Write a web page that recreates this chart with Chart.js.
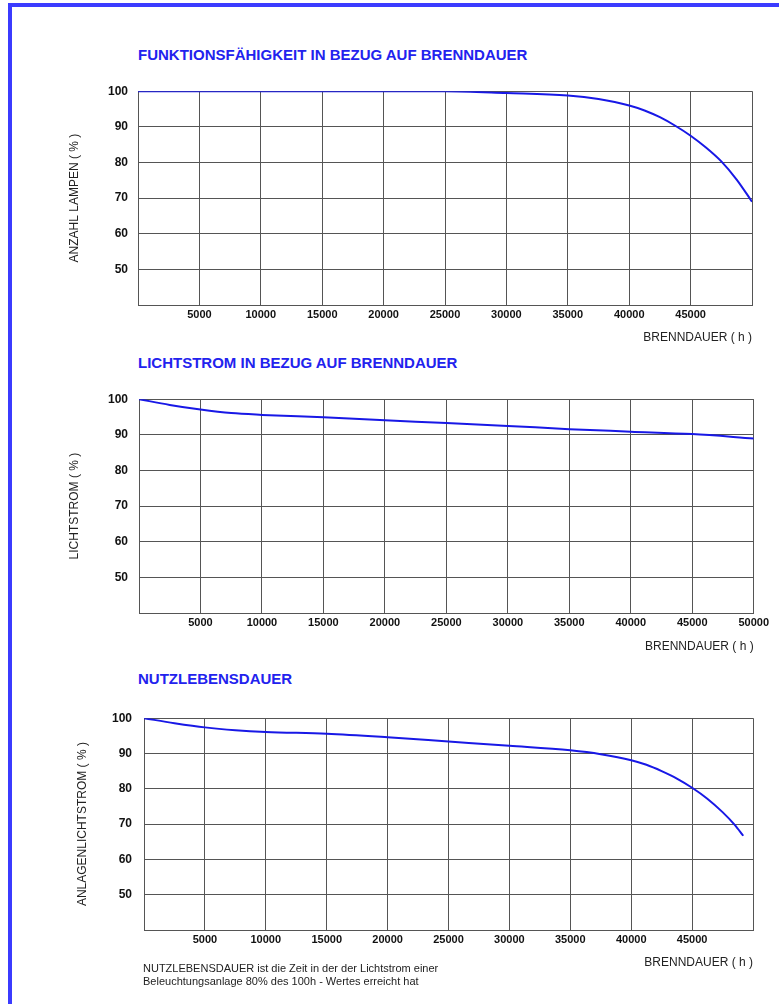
<!DOCTYPE html>
<html>
<head>
<meta charset="utf-8">
<script src="https://cdn.jsdelivr.net/npm/chart.js@4.4.1/dist/chart.umd.min.js"></script>
<style>
body{margin:0;background:#fff;width:779px;height:1004px;overflow:hidden;position:relative;font-family:"Liberation Sans",Arial,sans-serif}
#frame{position:absolute;left:8px;top:3px;right:-10px;bottom:-10px;border-left:4px solid #3b3bff;border-top:4px solid #3b3bff}
.title{position:absolute;left:138px;color:#2222ee;font-weight:bold;font-size:15px;line-height:15px;white-space:nowrap}
canvas{position:absolute;left:50px}
.note{position:absolute;left:143px;top:962px;font-size:11px;line-height:13px;color:#222;white-space:nowrap}
</style>
</head>
<body>
<div id="frame"></div>
<div class="title" style="top:47px">FUNKTIONSFÄHIGKEIT IN BEZUG AUF BRENNDAUER</div>
<div class="title" style="top:355px">LICHTSTROM IN BEZUG AUF BRENNDAUER</div>
<div class="title" style="top:671px">NUTZLEBENSDAUER</div>
<canvas id="c1" width="720" height="281" style="top:74px"></canvas>
<canvas id="c2" width="722" height="282" style="top:381px"></canvas>
<canvas id="c3" width="720" height="283" style="top:699px"></canvas>
<div class="note">NUTZLEBENSDAUER ist die Zeit in der der Lichtstrom einer<br>Beleuchtungsanlage 80% des 100h - Wertes erreicht hat</div>
<script>
// Brenndauer (h) und Werte in %
var hours1 = [0, 5000, 10000, 15000, 20000, 25000, 30000, 35000, 37500, 40000, 41250, 42500, 43750, 45000, 46250, 47500, 48750, 50000];
var funktion = [100, 100, 100, 100, 100, 100, 99.5, 98.8, 97.8, 96, 94.6, 92.7, 90.3, 87.5, 84.2, 80.3, 75.2, 69];

var hours2 = [0, 2500, 5000, 7500, 10000, 15000, 20000, 25000, 30000, 35000, 40000, 45000, 50000];
var lichtstrom = [100, 98.4, 97.1, 96.1, 95.6, 94.9, 94.1, 93.3, 92.5, 91.6, 90.9, 90.2, 89.0];

var hours3 = [0, 2500, 5000, 7500, 10000, 15000, 20000, 25000, 30000, 35000, 37500, 40000, 41250, 42500, 43750, 45000, 46250, 47500, 48500, 49200];
var anlage = [100, 98.6, 97.4, 96.6, 96.1, 95.6, 94.6, 93.4, 92.2, 90.9, 89.8, 88.1, 86.8, 85.0, 82.9, 80.3, 77.2, 73.4, 69.8, 66.7];

var xLabels1 = [5000, 10000, 15000, 20000, 25000, 30000, 35000, 40000, 45000];
var xLabels2 = [5000, 10000, 15000, 20000, 25000, 30000, 35000, 40000, 45000, 50000];
var xLabels3 = [5000, 10000, 15000, 20000, 25000, 30000, 35000, 40000, 45000];
var yLabels = [50, 60, 70, 80, 90, 100];

var gridCol = '#555';

function makeChart(id, xs, ys, c) {
    var pts = xs.map(function (x, i) { return {x: x, y: ys[i]}; });
    var ctx = document.getElementById(id).getContext('2d');
    return new Chart(ctx, {
        type: 'line',
        data: {
            datasets: [{
                data: pts,
                borderColor: '#1818e6',
                borderWidth: 2,
                pointRadius: 0,
                fill: false,
                cubicInterpolationMode: 'monotone'
            }]
        },
        options: {
            responsive: false,
            animation: false,
            devicePixelRatio: 1,
            layout: {padding: {top: 5, right: c.right, left: 0, bottom: 0}},
            plugins: {legend: {display: false}, tooltip: {enabled: false}},
            scales: {
                x: {
                    type: 'linear', min: 0, max: 50000,
                    afterFit: function (s) { s.height = c.xh; },
                    grid: {color: gridCol, drawTicks: false, lineWidth: 1},
                    border: {color: gridCol},
                    ticks: {
                        stepSize: 5000, padding: 3, color: '#111', maxRotation: 0,
                        font: {family: 'Liberation Sans', size: 11, weight: 'bold'},
                        callback: function (v) { return c.xl.indexOf(v) >= 0 ? String(v) : ''; }
                    },
                    title: {
                        display: true, text: 'BRENNDAUER ( h )', align: 'end', color: '#222',
                        font: {family: 'Liberation Sans', size: 12},
                        padding: {top: 0, bottom: c.xtp}
                    }
                },
                y: {
                    min: 40, max: 100,
                    afterFit: function (s) { s.width = c.yw; },
                    grid: {color: gridCol, drawTicks: false, lineWidth: 1},
                    border: {color: gridCol},
                    ticks: {
                        stepSize: 10, padding: c.ytp, color: '#111',
                        font: {family: 'Liberation Sans', size: 12, weight: 'bold'},
                        callback: function (v) { return yLabels.indexOf(v) >= 0 ? String(v) : ''; }
                    },
                    title: {
                        display: true, text: c.yTitle, color: '#222',
                        font: {family: 'Liberation Sans', size: 12},
                        padding: {top: c.ypt, bottom: 0}
                    }
                }
            }
        }
    });
}

makeChart('c1', hours1, funktion, {right: 18, xh: 50, yw: 88, xtp: 10, ypt: 17, ytp: 10, xl: xLabels1, yTitle: 'ANZAHL LAMPEN ( % )'});
makeChart('c2', hours2, lichtstrom, {right: 15, xh: 50, yw: 89, xtp: 9, ypt: 17, ytp: 11, xl: xLabels2, yTitle: 'LICHTSTROM ( % )'});
makeChart('c3', hours3, anlage, {right: 17, xh: 52, yw: 94, xtp: 12, ypt: 25, ytp: 12, xl: xLabels3, yTitle: 'ANLAGENLICHTSTROM ( % )'});
</script>
</body>
</html>
